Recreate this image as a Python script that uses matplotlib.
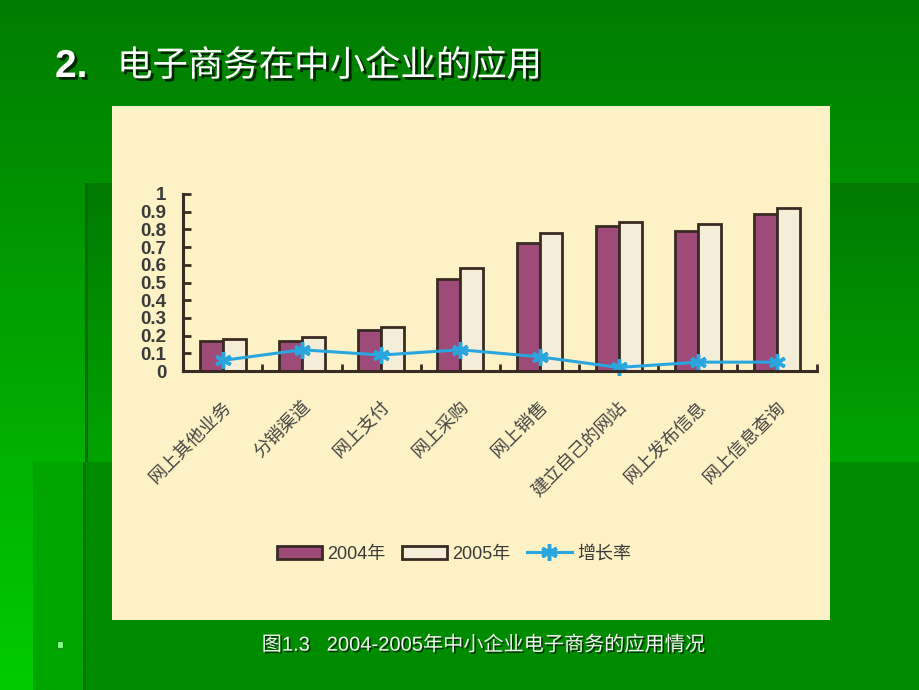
import numpy as np
import matplotlib
matplotlib.use("Agg")
import matplotlib.pyplot as plt
from matplotlib.colors import LinearSegmentedColormap
from matplotlib.patches import Patch, Rectangle
from matplotlib.lines import Line2D
from matplotlib.transforms import ScaledTranslation
import matplotlib.patheffects as pe

plt.rcParams['font.family'] = ['Liberation Sans', 'Noto Sans CJK SC', 'DejaVu Sans']

# ---------------- data ----------------
categories = ['网上其他业务', '分销渠道', '网上支付', '网上采购',
              '网上销售', '建立自己的网站', '网上发布信息', '网上信息查询']
values_2004 = [0.17, 0.17, 0.23, 0.52, 0.725, 0.82, 0.79, 0.885]
values_2005 = [0.18, 0.19, 0.25, 0.58, 0.78, 0.84, 0.83, 0.92]
growth_rate = [0.06, 0.12, 0.09, 0.12, 0.08, 0.02, 0.05, 0.05]
y_ticks = [0, 0.1, 0.2, 0.3, 0.4, 0.5, 0.6, 0.7, 0.8, 0.9, 1]
y_tick_labels = ['0', '0.1', '0.2', '0.3', '0.4', '0.5', '0.6', '0.7', '0.8', '0.9', '1']
series_names = ['2004年', '2005年', '增长率']
title_num = '2.'
title_text = '电子商务在中小企业的应用'
caption = '图1.3   2004-2005年中小企业电子商务的应用情况'

W, H = 920, 690
fig = plt.figure(figsize=(W / 100, H / 100), dpi=100)

# ---------------- slide background ----------------
bg = fig.add_axes([0, 0, 1, 1])
bg.axis('off')
grad = np.linspace(0, 1, 256).reshape(-1, 1)


def grad_rect(x0, x1, y0, y1, c0, c1, z):
    cmap = LinearSegmentedColormap.from_list('g', [c0, c1])
    bg.imshow(grad, cmap=cmap, extent=[x0, x1, y1, y0], aspect='auto',
              origin='upper', zorder=z, interpolation='bilinear')


grad_rect(0, W, 0, H, '#007c00', '#00cc00', 0)
grad_rect(88, W, 183, 462, '#007a00', '#00a400', 1)
bg.add_patch(Rectangle((85, 183), 3, 279, color='#006a00', zorder=1.5, lw=0))
grad_rect(33, W, 462, H, '#00a600', '#00a600', 2)
grad_rect(86, W, 462, H, '#008c00', '#008c00', 3)
bg.add_patch(Rectangle((83, 462), 3, 228, color='#007800', zorder=3.5, lw=0))
# chart panel
bg.add_patch(Rectangle((112, 106), 718, 514, color='#fdf1c6', zorder=5, lw=0))
# bullet
bg.add_patch(Rectangle((57, 641), 6, 7, facecolor='#80ff80', edgecolor='#2a7a2a',
                       lw=0.8, zorder=6))
bg.set_xlim(0, W)
bg.set_ylim(H, 0)

shadow = [pe.withSimplePatchShadow(offset=(2, -2), shadow_rgbFace='black', alpha=0.7)]
fig.text(55 / W, 1 - 67 / H, title_num, color='white', fontsize=28, fontweight='bold',
         va='center', ha='left', path_effects=shadow)
fig.text(117 / W, 1 - 66 / H, title_text, color='white', fontsize=25.5,
         family=['Noto Sans CJK SC'], va='center', ha='left', path_effects=shadow)
fig.text(483 / W, 1 - 645 / H, caption, color='#f4f4f4', fontsize=14.5,
         va='center', ha='center',
         path_effects=[pe.withSimplePatchShadow(offset=(1.2, -1.2),
                                                shadow_rgbFace='black', alpha=0.6)])

# ---------------- chart ----------------
x_left, x_right = 183.3, 816.6
y_bot, y_top = 371, 194
ax = fig.add_axes([x_left / W, 1 - y_bot / H, (x_right - x_left) / W, (y_bot - y_top) / H])
ax.set_facecolor('none')
x = np.arange(len(categories))
bw = 0.29
edge = '#3a2a24'
ax.bar(x - bw / 2, values_2004, bw, color='#9e4b79', edgecolor=edge, lw=2, zorder=3)
ax.bar(x + bw / 2, values_2005, bw, color='#f4eed8', edgecolor=edge, lw=2, zorder=3)
line_c = '#2aa6de'
ax.plot(x, growth_rate, color=line_c, lw=2.2, marker=(6, 2, 0), ms=12, mew=2.5,
        zorder=4, clip_on=False)

ax.set_xlim(-0.5, 7.5)
ax.set_ylim(0, 1)
for s in ['top', 'right']:
    ax.spines[s].set_visible(False)
for s in ['left', 'bottom']:
    ax.spines[s].set_color(edge)
    ax.spines[s].set_linewidth(2.2)
    ax.spines[s].set_zorder(5)

ax.set_yticks(y_ticks)
ax.set_yticklabels(y_tick_labels, fontsize=13.5, fontweight='bold', color='#3a3a3a')
ax.tick_params(axis='y', direction='in', length=6, width=2, color=edge, pad=12)

ax.set_xticks(x)
ax.set_xticklabels(categories, rotation=45, ha='right', va='center',
                   rotation_mode='anchor', fontsize=13, color='#444444')
ax.tick_params(axis='x', which='major', length=0, pad=24)
ax.set_xticks(np.arange(0.5, 8, 1), minor=True)
ax.tick_params(axis='x', which='minor', direction='in', length=5, width=2, color=edge)
for lab in ax.get_xticklabels():
    lab.set_transform(lab.get_transform() + ScaledTranslation(6 / 100, 0, fig.dpi_scale_trans))

handles = [Patch(facecolor='#9e4b79', edgecolor=edge, lw=2),
           Patch(facecolor='#f4eed8', edgecolor=edge, lw=2),
           Line2D([], [], color=line_c, lw=2.2, marker=(6, 2, 0), ms=12, mew=2.5)]
fig.legend(handles, series_names, loc='center', bbox_to_anchor=(454 / W, 1 - 554 / H),
           ncol=3, frameon=False, fontsize=13, handlelength=2.5, handleheight=0.75,
           handletextpad=0.3, columnspacing=0.9, labelcolor='#3a3a3a')

fig.savefig('out.png', dpi=100)
